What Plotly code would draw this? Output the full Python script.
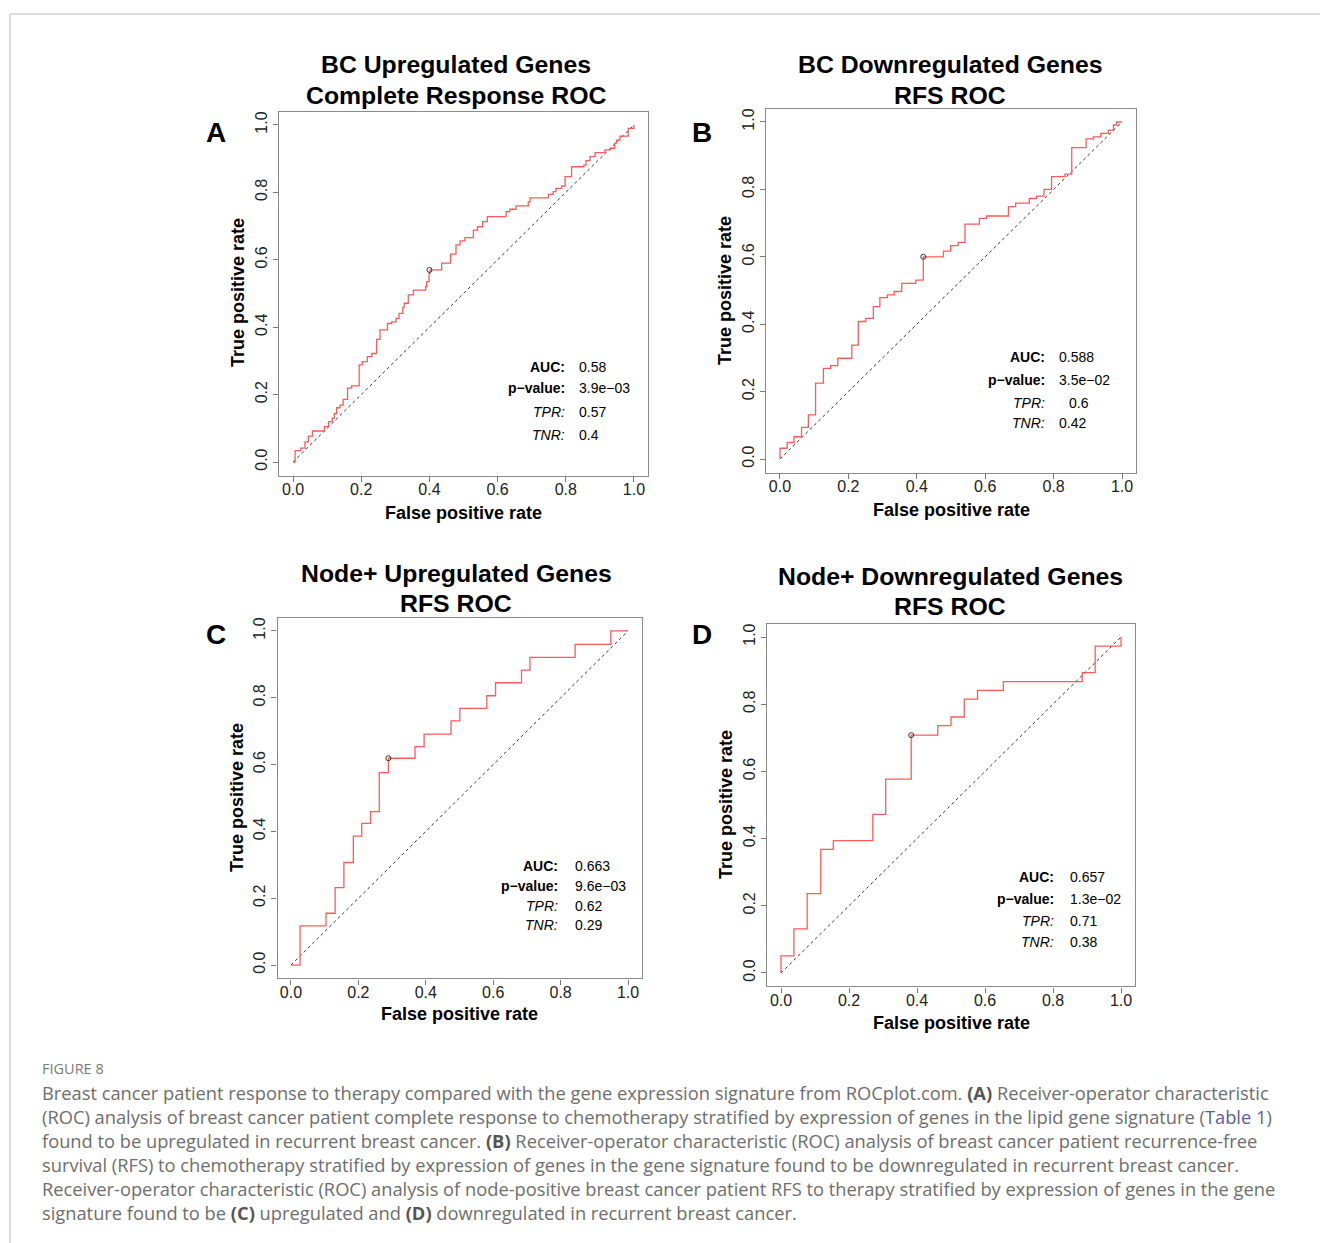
import plotly.graph_objects as go

W, H = 1320, 1243

# ---------------- data ----------------
fpr_a = [0, 0.006, 0.023, 0.035, 0.045, 0.057, 0.092, 0.104, 0.115, 0.121, 0.128, 0.138, 0.147, 0.160, 0.172,
         0.194, 0.203, 0.218, 0.231, 0.245, 0.255, 0.277, 0.289, 0.302, 0.311, 0.322, 0.326, 0.338, 0.353, 0.389,
         0.392, 0.399, 0.402, 0.436, 0.462, 0.478, 0.490, 0.504, 0.529, 0.541, 0.556, 0.570, 0.625, 0.636, 0.654,
         0.690, 0.695, 0.749, 0.763, 0.771, 0.788, 0.798, 0.817, 0.853, 0.859, 0.871, 0.886, 0.915, 0.930, 0.944,
         0.949, 0.959, 0.983, 1.0]
tpr_a = [0, 0.034, 0.041, 0.060, 0.077, 0.092, 0.105, 0.120, 0.130, 0.144, 0.161, 0.169, 0.186, 0.219, 0.226,
         0.288, 0.298, 0.313, 0.322, 0.364, 0.392, 0.411, 0.416, 0.426, 0.441, 0.459, 0.471, 0.496, 0.510, 0.520,
         0.535, 0.560, 0.570, 0.590, 0.617, 0.644, 0.656, 0.666, 0.688, 0.698, 0.713, 0.728, 0.743, 0.750, 0.760,
         0.772, 0.784, 0.794, 0.802, 0.812, 0.819, 0.847, 0.876, 0.881, 0.894, 0.906, 0.918, 0.926, 0.931, 0.946,
         0.955, 0.967, 0.990, 1.0]

fpr_b = [0, 0, 0.021, 0.041, 0.063, 0.083, 0.104, 0.127, 0.148, 0.169, 0.210, 0.229, 0.251, 0.273, 0.292, 0.314,
         0.334, 0.356, 0.397, 0.419, 0.478, 0.499, 0.521, 0.541, 0.583, 0.604, 0.668, 0.689, 0.729, 0.750, 0.772,
         0.794, 0.833, 0.853, 0.895, 0.916, 0.938, 0.960, 0.975, 0.984, 1.0]
tpr_b = [0, 0.032, 0.049, 0.066, 0.094, 0.131, 0.225, 0.269, 0.277, 0.299, 0.338, 0.408, 0.417, 0.452, 0.479, 0.487,
         0.497, 0.521, 0.531, 0.600, 0.617, 0.633, 0.643, 0.697, 0.714, 0.721, 0.749, 0.759, 0.773, 0.780, 0.800,
         0.838, 0.845, 0.924, 0.950, 0.956, 0.966, 0.976, 0.991, 1.0, 1.0]

fpr_c = [0, 0.027, 0.104, 0.131, 0.157, 0.185, 0.210, 0.236, 0.262, 0.289, 0.368, 0.395, 0.475, 0.501, 0.581,
         0.607, 0.684, 0.709, 0.843, 0.949, 1.0]
tpr_c = [0, 0.117, 0.155, 0.232, 0.307, 0.386, 0.424, 0.459, 0.576, 0.619, 0.654, 0.691, 0.731, 0.768, 0.806,
         0.845, 0.883, 0.921, 0.960, 1.0, 1.0]

fpr_d = [0, 0, 0.038, 0.077, 0.117, 0.154, 0.270, 0.308, 0.383, 0.461, 0.500, 0.539, 0.578, 0.654, 0.886, 0.924, 1.0]
tpr_d = [0, 0.051, 0.131, 0.236, 0.368, 0.394, 0.472, 0.577, 0.708, 0.736, 0.762, 0.815, 0.841, 0.867, 0.894, 0.973, 1.0]

cut_fpr = [0.40, 0.419, 0.289, 0.383]
cut_tpr = [0.57, 0.600, 0.619, 0.708]

titles = [["BC Upregulated Genes", "Complete Response ROC"],
          ["BC Downregulated Genes", "RFS ROC"],
          ["Node+ Upregulated Genes", "RFS ROC"],
          ["Node+ Downregulated Genes", "RFS ROC"]]
letters = ["A", "B", "C", "D"]
auc_vals = ["0.58", "0.588", "0.663", "0.657"]
p_vals = ["3.9e\u221203", "3.5e\u221202", "9.6e\u221203", "1.3e\u221202"]
tpr_vals = ["0.57", "0.6", "0.62", "0.71"]
tnr_vals = ["0.4", "0.42", "0.29", "0.38"]
tick_vals = [0, 0.2, 0.4, 0.6, 0.8, 1.0]
tick_text = ["0.0", "0.2", "0.4", "0.6", "0.8", "1.0"]

curves = [(fpr_a, tpr_a), (fpr_b, tpr_b), (fpr_c, tpr_c), (fpr_d, tpr_d)]

# ---------------- layout geometry (pixels) ----------------
# plot box: left, right, top, bottom
boxes = [(279.4, 647.6, 111.5, 475.5),
         (766.3, 1135.7, 108.5, 472.5),
         (277.5, 641.5, 617.6, 978.4),
         (767.4, 1134.6, 623.6, 986.4)]
title_pos = [(456, 65, 95), (950, 65, 95), (456, 573, 603), (950, 576, 606)]
letter_pos = [(216, 133), (702, 133), (216, 634), (702, 634)]
xlab_pos = [(463, 513), (951, 510), (459, 1014), (951, 1023)]
ylab_pos = [(238, 293), (725, 290), (237, 798), (726, 805)]
stat_pos = [(567, 577, [366.7, 387.7, 412.3, 435]),
            (1046.7, 1057.3, [357.3, 380, 402.7, 423.3]),
            (560, 573.3, [866, 886, 905.7, 925]),
            (1056, 1067.7, [877.3, 899.3, 920.7, 941.7])]

def px(x):
    return x / W

def py(y):
    return 1 - y / H

fig = go.Figure()
PF = "Liberation Sans, Arial, sans-serif"
annotations = []
layout_axes = {}

for i in range(4):
    n = "" if i == 0 else str(i + 1)
    l, r, t, b = boxes[i]
    fx, ty = curves[i]
    xa = "x" + n
    ya = "y" + n
    # diagonal
    fig.add_trace(go.Scatter(x=[0, 1], y=[0, 1], xaxis=xa, yaxis=ya, mode="lines",
                             line=dict(color="#333333", width=1, dash="dot"), showlegend=False,
                             hoverinfo="skip"))
    # ROC curve
    fig.add_trace(go.Scatter(x=fx, y=ty, xaxis=xa, yaxis=ya, mode="lines", line_shape="hv",
                             line=dict(color="#ff5a5a", width=1.3), showlegend=False))
    # cutoff point
    fig.add_trace(go.Scatter(x=[cut_fpr[i]], y=[cut_tpr[i]], xaxis=xa, yaxis=ya, mode="markers",
                             marker=dict(symbol="circle-open", size=5, color="#333333", line=dict(width=1)),
                             showlegend=False))
    axcommon = dict(range=[-0.04, 1.04], tickvals=tick_vals, ticktext=tick_text, ticks="outside",
                    ticklen=5, tickcolor="#777777", tickwidth=1, showline=True, mirror=True,
                    linecolor="#8a8a8a", linewidth=1.3, showgrid=False, zeroline=False,
                    tickfont=dict(family=PF, size=16, color="#222222"), fixedrange=True)
    layout_axes["xaxis" + n] = dict(axcommon, domain=[px(l), px(r)], anchor=ya, ticklabelstandoff=-6)
    layout_axes["yaxis" + n] = dict(axcommon, domain=[py(b), py(t)], anchor=xa, tickangle=-90)

    # titles
    cx, y1, y2 = title_pos[i]
    for txt, yy in zip(titles[i], [y1, y2]):
        annotations.append(dict(x=px(cx), y=py(yy), xref="paper", yref="paper", text="<b>%s</b>" % txt,
                                showarrow=False, xanchor="center", yanchor="middle",
                                font=dict(family=PF, size=24.8, color="#000000")))
    # panel letter
    lx, lyy = letter_pos[i]
    annotations.append(dict(x=px(lx), y=py(lyy), xref="paper", yref="paper", text="<b>%s</b>" % letters[i],
                            showarrow=False, xanchor="center", yanchor="middle",
                            font=dict(family=PF, size=28, color="#000000")))
    # axis titles
    xx, xy = xlab_pos[i]
    annotations.append(dict(x=px(xx), y=py(xy), xref="paper", yref="paper", text="<b>False positive rate</b>",
                            showarrow=False, xanchor="center", yanchor="middle",
                            font=dict(family=PF, size=18, color="#000000")))
    yx, yy_ = ylab_pos[i]
    annotations.append(dict(x=px(yx), y=py(yy_), xref="paper", yref="paper", text="<b>True positive rate</b>",
                            showarrow=False, xanchor="center", yanchor="middle", textangle=-90,
                            font=dict(family=PF, size=18, color="#000000")))
    # stats
    rx, vx, rows = stat_pos[i]
    labels = ["<b>AUC:</b>", "<b>p\u2212value:</b>", "<i>TPR:</i>", "<i>TNR:</i>"]
    values = [auc_vals[i], p_vals[i], tpr_vals[i], tnr_vals[i]]
    for lab, val, yy in zip(labels, values, rows):
        annotations.append(dict(x=px(rx), y=py(yy), xref="paper", yref="paper", text=lab,
                                showarrow=False, xanchor="right", yanchor="middle",
                                font=dict(family=PF, size=14, color="#000000")))
        vxx = vx + 10 if (i == 1 and val == "0.6") else vx
        annotations.append(dict(x=px(vxx), y=py(yy), xref="paper", yref="paper", text=val,
                                showarrow=False, xanchor="left", yanchor="middle",
                                font=dict(family=PF, size=14, color="#000000")))

# ---------------- caption ----------------
CF = "Open Sans, Lato, sans-serif"
ccol = "#6e6e6e"
annotations.append(dict(x=px(40), y=py(1068), xref="paper", yref="paper", text="FIGURE 8",
                        showarrow=False, xanchor="left", yanchor="middle",
                        font=dict(family=CF, size=14.5, color="#7a7a7a")))
B = "<b><span style='color:#555555'>%s</span></b>"
cap_lines = [
    "Breast cancer patient response to therapy compared with the gene expression signature from ROCplot.com. "
    + B % "(A)" + " Receiver-operator characteristic",
    "(ROC) analysis of breast cancer patient complete response to chemotherapy stratified by expression of genes "
    "in the lipid gene signature (<span style='color:#5b5ba8'>Table 1</span>)",
    "found to be upregulated in recurrent breast cancer. " + B % "(B)"
    + " Receiver-operator characteristic (ROC) analysis of breast cancer patient recurrence-free",
    "survival (RFS) to chemotherapy stratified by expression of genes in the gene signature found to be "
    "downregulated in recurrent breast cancer.",
    "Receiver-operator characteristic (ROC) analysis of node-positive breast cancer patient RFS to therapy "
    "stratified by expression of genes in the gene",
    "signature found to be " + B % "(C)" + " upregulated and " + B % "(D)" + " downregulated in recurrent breast cancer.",
]
for k, line in enumerate(cap_lines):
    annotations.append(dict(x=px(40), y=py(1092 + 24 * k), xref="paper", yref="paper", text=line,
                            showarrow=False, xanchor="left", yanchor="middle",
                            font=dict(family=CF, size=18.3, color=ccol)))

shapes = [
    dict(type="line", xref="paper", yref="paper", x0=px(10), x1=1, y0=py(14), y1=py(14),
         line=dict(color="#dddddd", width=2)),
    dict(type="line", xref="paper", yref="paper", x0=px(10), x1=px(10), y0=py(14), y1=0,
         line=dict(color="#dddddd", width=2)),
]

fig.update_layout(width=W, height=H, margin=dict(l=0, r=0, t=0, b=0), paper_bgcolor="white",
                  plot_bgcolor="white", showlegend=False, annotations=annotations, shapes=shapes,
                  **layout_axes)

fig.write_html("out.html", config={"displayModeBar": False},
               post_script="document.body.style.margin='0';document.body.style.overflow='hidden';")
